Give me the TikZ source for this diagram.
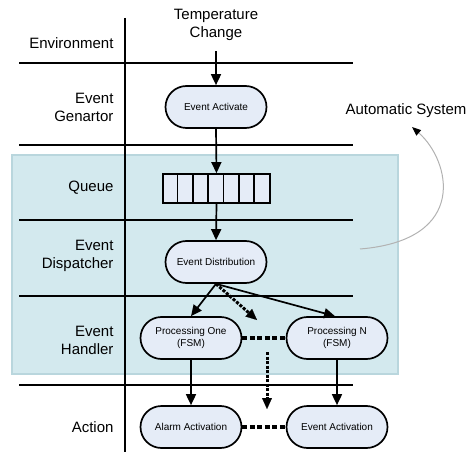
\documentclass[tikz,border=0pt]{standalone}
\usepackage{fontspec}
\setmainfont{Liberation Sans}
\usetikzlibrary{arrows.meta,shapes.misc}
\definecolor{lanefill}{HTML}{D3E9EE}
\definecolor{laneedge}{HTML}{B9D6DD}
\definecolor{boxfill}{HTML}{E5ECF7}
\tikzset{
  lane/.style={anchor=east,align=right,font=\fontsize{15}{18}\selectfont},
  box/.style={rounded rectangle,draw,line width=1.7pt,fill=boxfill,minimum width=103pt,minimum height=42pt,align=center,font=\fontsize{10}{12}\selectfont,inner sep=1pt},
  flow/.style={line width=1.7pt,-{Triangle[length=11pt,width=10pt]}},
  dashflow/.style={line width=3pt,dash pattern=on 3pt off 1.5pt,-{Triangle[length=11pt,width=10pt,line width=0.1pt]}},
  link/.style={line width=3.5pt,dash pattern=on 5pt off 2.5pt}
}
\begin{document}
\begin{tikzpicture}[x=1pt,y=-1pt]
\useasboundingbox (0,0) rectangle (473,454);
\fill[lanefill,draw=laneedge,line width=1.2pt] (12,155) rectangle (398,374);

% lanes
\draw[line width=1.7pt] (125,18) -- (125,452);
\foreach \y in {63,145,220,296,385}
  \draw[line width=1.7pt] (19,\y) -- (353,\y);

\node[lane] (env) at (117,43) {Environment};
\node[lane] (gen) at (117,107) {Event\\Genartor};
\node[lane] (queue) at (117,188) {Queue};
\node[lane] (disp) at (117,256) {Event\\Dispatcher};
\node[lane] (hand) at (117,340) {Event\\Handler};
\node[lane] (action) at (117,427) {Action};

\node[align=center,font=\fontsize{15}{18}\selectfont] (temp) at (216,25) {Temperature\\Change};
\node[font=\fontsize{15}{18}\selectfont] (auto) at (406,111) {Automatic System};

\node[box] (act) at (216,107) {Event Activate};
\node[draw,line width=1.7pt,fill=boxfill,minimum width=107pt,minimum height=29pt] (buf) at (216.5,188.5) {};
\foreach \i in {1,...,6}
  \draw[line width=1.7pt] ([xshift=\i*15.3pt]buf.north west) -- ([xshift=\i*15.3pt]buf.south west);
\node[box] (dist) at (216,262) {Event Distribution};
\node[box] (p1) at (191,338) {Processing One\\(FSM)};
\node[box] (pn) at (337,338) {Processing N\\(FSM)};
\node[box] (alarm) at (191,427) {Alarm Activation};
\node[box] (evact) at (337,427) {Event Activation};

\coordinate (more) at (257,320);
\coordinate (vtop) at (267,352);
\coordinate (vbot) at (267,409);
\coordinate (sysin) at (360,249);

\draw[flow,shorten <=7pt] (temp.south) -- (act.north);
\draw[flow] (act.south) -- (buf.north);
\draw[flow] (buf.south) -- (dist.north);
\draw[flow] (dist.south) -- (p1.north);
\draw[flow] (dist.south) -- ([xshift=-2pt]pn.north);
\draw[dashflow] (dist.south) -- (more);
\draw[link] (p1.east) -- (pn.west);
\draw[dashflow] (vtop) -- (vbot);
\draw[flow] (p1.south) -- (alarm.north);
\draw[flow] (pn.south) -- (evact.north);
\draw[link] (alarm.east) -- (evact.west);

\draw[gray!60,line width=1pt,-{Triangle[length=9pt,width=7pt,fill=black,color=black]}] (sysin) .. controls (470,240) and (450,160) .. (412,127);
\end{tikzpicture}
\end{document}
